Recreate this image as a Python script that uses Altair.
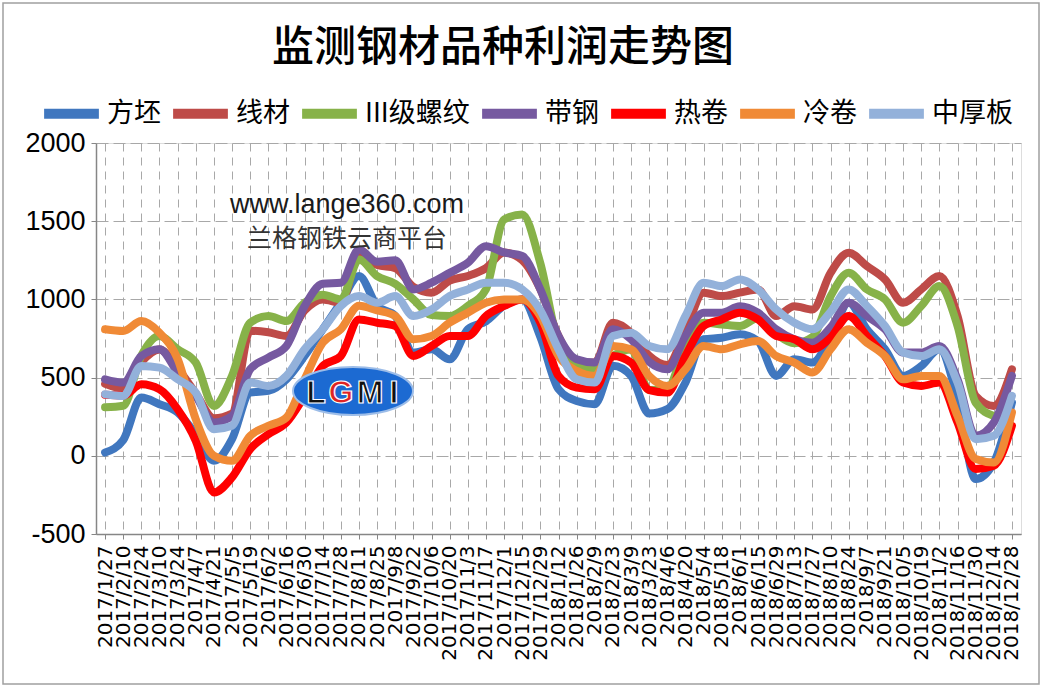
import altair as alt
import pandas as pd

dates = ["2017/1/27", "2017/2/10", "2017/2/24", "2017/3/10", "2017/3/24", "2017/4/7",
         "2017/4/21", "2017/5/5", "2017/5/19", "2017/6/2", "2017/6/16", "2017/6/30",
         "2017/7/14", "2017/7/28", "2017/8/11", "2017/8/25", "2017/9/8", "2017/9/22",
         "2017/10/6", "2017/10/20", "2017/11/3", "2017/11/17", "2017/12/1", "2017/12/15",
         "2017/12/29", "2018/1/12", "2018/1/26", "2018/2/9", "2018/2/23", "2018/3/9",
         "2018/3/23", "2018/4/6", "2018/4/20", "2018/5/4", "2018/5/18", "2018/6/1",
         "2018/6/15", "2018/6/29", "2018/7/13", "2018/7/27", "2018/8/10", "2018/8/24",
         "2018/9/7", "2018/9/21", "2018/10/5", "2018/10/19", "2018/11/2", "2018/11/16",
         "2018/11/30", "2018/12/14", "2018/12/28"]

series_names = ["方坯", "线材", "III级螺纹", "带钢", "热卷", "冷卷", "中厚板"]
series_colors = ["#4077BF", "#BE4B48", "#87B249", "#7659A0", "#FF0000", "#F08A36", "#93B1DA"]

fangpi = [21, 100, 372, 330, 277, 138, -32, 106, 404, 415, 489,
          638, 809, 980, 1149, 958, 894, 660, 681, 617, 809,
          860, 960, 1000, 760, 426, 351, 330, 575, 511, 270,
          298, 468, 745, 755, 777, 734, 511, 617, 596, 755,
          979, 809, 681, 511, 574, 681, 362, -149, -43, 340]
xiancai = [460, 430, 600, 680, 560, 400, 240, 270, 800, 790, 766,
           930, 1000, 979, 1280, 1220, 1200, 1080, 1043, 1120, 1150,
           1200, 1300, 1250, 1064, 766, 596, 596, 851, 787, 640,
           580, 800, 1043, 1021, 1043, 1064, 894, 957, 936, 1170,
           1298, 1213, 1128, 979, 1064, 1149, 894, 383, 319, 553]
luowen = [310, 320, 640, 766, 681, 596, 319, 511, 851, 894, 862,
          979, 1030, 1000, 1255, 1149, 1100, 1000, 900, 894, 958,
          1064, 1511, 1543, 1230, 720, 575, 553, 640, 680, 420,
          430, 700, 850, 840, 830, 880, 780, 720, 760, 1020,
          1170, 1064, 1000, 851, 958, 1085, 830, 340, 255, None]
daigang = [489, 468, 638, 681, 532, 383, 213, 255, 553, 628, 702,
           957, 1100, 1107, 1319, 1240, 1250, 1064, 1107, 1170, 1234,
           1340, 1300, 1277, 1064, 766, 617, 596, 809, 745, 600,
           553, 766, 915, 915, 957, 915, 809, 745, 723, 820,
           979, 894, 809, 660, 660, 702, 489, 128, 213, 511]
rejuan = [390, 385, 457, 425, 298, 96, -234, -138, 43, 138, 213,
          383, 574, 638, 872, 851, 830, 638, 702, 766, 766,
          894, 958, 1000, 851, 511, 436, 425, 638, 596, 420,
          404, 638, 830, 872, 915, 872, 766, 745, 681, 755,
          894, 766, 638, 468, 447, 468, 213, -85, -64, 192]
lengjuan = [809, 798, 862, 787, 620, 234, 0, -32, 128, 192, 245,
            489, 723, 809, 960, 930, 894, 745, 766, 851, 915,
            979, 1000, 1000, 894, 638, 543, 511, 702, 681, 510,
            447, 553, 702, 681, 713, 734, 638, 596, 532, 681,
            809, 723, 638, 489, 511, 511, 255, -21, -43, 277]
zhonghouban = [394, 383, 574, 564, 489, 404, 170, 192, 468, 447, 511,
               681, 809, 958, 1021, 979, 1021, 894, 936, 1021, 1064,
               1107, 1107, 1064, 930, 681, 489, 468, 766, 787, 702,
               681, 894, 1107, 1085, 1128, 1064, 936, 851, 809, 920,
               1064, 958, 830, 660, 638, 681, 468, 106, 128, 383]

y_ticks = [-500, 0, 500, 1000, 1500, 2000]

all_values = [fangpi, xiancai, luowen, daigang, rejuan, lengjuan, zhonghouban]
rows = []
for name, vals in zip(series_names, all_values):
    for d, v in zip(dates, vals):
        if v is not None:
            rows.append({"date": d, "series": name, "value": v})
df = pd.DataFrame(rows)

GRID = "#A8A8A8"
AXIS = "#868686"

x_enc = alt.X(
    "date:O",
    sort=dates,
    scale=alt.Scale(domain=dates, paddingOuter=0),
    axis=alt.Axis(
        title=None, labelAngle=-90, labelFont="DejaVu Sans", labelFontSize=20,
        labelColor="#000000", labelPadding=6, tickSize=5, tickColor=AXIS,
        domainColor=AXIS, domainWidth=1.5, grid=True, gridColor=GRID,
        gridDash=[8, 6], gridWidth=1, labelOverlap=False,
    ),
)
y_enc = alt.Y(
    "value:Q",
    scale=alt.Scale(domain=[-500, 2000], nice=False, zero=False),
    axis=alt.Axis(
        title=None, values=y_ticks, labelExpr="'' + datum.value",
        labelFont="Liberation Sans", labelFontSize=27,
        labelColor="#000000", labelPadding=6, tickSize=5, tickColor=AXIS,
        domainColor=AXIS, domainWidth=1.5, grid=True, gridColor=GRID,
        gridDash=[12, 5], gridWidth=1,
    ),
)
color_enc = alt.Color(
    "series:N",
    scale=alt.Scale(domain=series_names, range=series_colors),
    legend=alt.Legend(
        title=None, orient="none", legendX=-57, legendY=-62, direction="horizontal",
        columns=7, symbolType="stroke", symbolStrokeWidth=10, symbolSize=3000,
        labelFont="Noto Sans CJK SC", labelFontSize=27, labelColor="#000000",
        columnPadding=-8, labelOffset=3,
    ),
)

base = alt.Chart(df)
line_layers = []
for name in series_names:
    line_layers.append(
        base.transform_filter(alt.datum.series == name)
        .mark_line(strokeWidth=8, strokeCap="round", strokeJoin="round", interpolate="monotone")
        .encode(x=x_enc, y=y_enc, color=color_enc)
    )

one = pd.DataFrame({"k": [0]})
title_text = alt.Chart(one).mark_text(
    text="监测钢材品种利润走势图", font="Noto Sans CJK SC", fontSize=42, fontWeight=500,
    color="#000000", baseline="middle", align="center",
).encode(x=alt.value(407), y=alt.value(-95))
wm_url = alt.Chart(one).mark_text(
    text="www.lange360.com", font="Liberation Sans", fontSize=27, color="#1a1a1a"
).encode(x=alt.value(251), y=alt.value(62))
wm_cn = alt.Chart(one).mark_text(
    text="兰格钢铁云商平台", font="Noto Sans CJK SC", fontSize=25, color="#333333"
).encode(x=alt.value(251), y=alt.value(96))
logo_shape = "M -1 0 A 1 0.4 0 1 0 1 0 A 1 0.4 0 1 0 -1 0 Z"
logo = alt.Chart(one).mark_point(
    shape=logo_shape, filled=True, fill="#1C6AD2", opacity=1, size=14400,
    stroke="#9DBDE8", strokeWidth=2,
).encode(x=alt.value(257), y=alt.value(248))
logo_letters = []
for letter, lx, lc in [("L", 220, "#111111"), ("G", 245, "#E02424"), ("M", 274, "#111111"), ("I", 298, "#111111")]:
    logo_letters.append(
        alt.Chart(one).mark_text(
            text=letter, font="Liberation Sans", fontSize=32, fontWeight="bold",
            color=lc, stroke="#FFFFFF", strokeWidth=1.2,
        ).encode(x=alt.value(lx), y=alt.value(250))
    )
frame = alt.Chart(one).mark_rect(
    fill=None, fillOpacity=0, stroke="#A0A0A0", strokeWidth=1.5
).encode(x=alt.value(-93), x2=alt.value(943), y=alt.value(-140), y2=alt.value(541))

chart = alt.layer(*line_layers, logo, *logo_letters, wm_url, wm_cn, title_text, frame).properties(
    width=925,
    height=391,
    autosize=alt.AutoSizeParams(type="none"),
    padding={"left": 96, "top": 143, "right": 27, "bottom": 154},
).configure_view(stroke=None).configure(background="#FFFFFF")

chart.save("out.html", embed_options={"renderer": "svg", "actions": False})
